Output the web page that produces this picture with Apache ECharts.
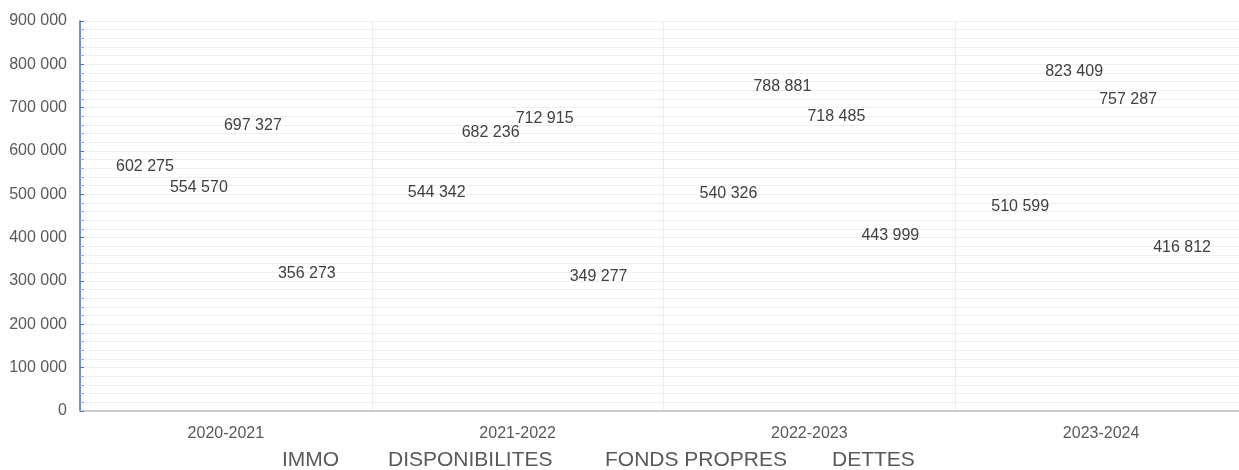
<!DOCTYPE html>
<html>
<head>
<meta charset="utf-8">
<script src="https://cdn.jsdelivr.net/npm/echarts@6/dist/echarts.min.js"></script>
<style>
  html, body { margin: 0; padding: 0; background: #fff; }
  #chart { width: 1239px; height: 470px; }
</style>
</head>
<body>
<div id="chart"></div>
<script>
const years = ["2020-2021", "2021-2022", "2022-2023", "2023-2024"];
const seriesNames = ["IMMO", "DISPONIBILITES", "FONDS PROPRES", "DETTES"];
const immo = [602275, 544342, 540326, 510599];
const disponibilites = [554570, 682236, 788881, 823409];
const fondsPropres = [697327, 712915, 718485, 757287];
const dettes = [356273, 349277, 443999, 416812];

window.addEventListener("load", function () {
  const chart = echarts.init(document.getElementById("chart"));
  const fontFamily = "'Liberation Sans', Arial, sans-serif";

  function fmt(v) {
    return String(v).replace(/\B(?=(\d{3})+(?!\d))/g, " ");
  }

  const values = [immo, disponibilites, fondsPropres, dettes];
  const series = seriesNames.map(function (name, i) {
    return {
      name: name,
      type: "bar",
      data: values[i],
      barGap: "0%",
      barCategoryGap: "26%",
      itemStyle: { color: "rgba(0,0,0,0)" },
      label: {
        show: true,
        position: "insideTop",
        distance: 9,
        formatter: function (p) { return fmt(p.value); },
        color: "#404040",
        fontSize: 16,
        fontFamily: fontFamily,
      },
      emphasis: { disabled: true },
    };
  });

  // one legend per entry so the spacing follows the original
  const legendLeft = [272, 378, 595, 822];
  const legends = seriesNames.map(function (name, i) {
    return {
      data: [name],
      left: legendLeft[i],
      top: 445,
      icon: "none",
      itemWidth: 0,
      itemHeight: 14,
      textStyle: { color: "#595959", fontSize: 21, fontFamily: fontFamily },
    };
  });

  const option = {
    animation: false,
    backgroundColor: "#fff",
    // the plot area runs a little past the right edge in the original
    grid: { left: 80, right: -8, top: 21, bottom: 59, outerBoundsMode: "none" },
    legend: legends,
    xAxis: {
      type: "category",
      data: years,
      axisLine: { lineStyle: { color: "#bfbfbf", width: 1.5 } },
      axisTick: { show: false },
      axisLabel: { color: "#595959", fontSize: 16, fontFamily: fontFamily, margin: 15 },
      splitLine: { show: true, lineStyle: { color: "#ececec" } },
    },
    yAxis: {
      type: "value",
      min: 0,
      max: 900000,
      interval: 100000,
      axisLine: { show: true, lineStyle: { color: "#4472C4", width: 1.5 } },
      axisTick: { show: true, inside: true, length: 4, lineStyle: { color: "#4472C4" } },
      minorTick: { show: true, splitNumber: 5, length: 4, lineStyle: { color: "#8faadc" } },
      axisLabel: {
        color: "#595959",
        fontSize: 16,
        fontFamily: fontFamily,
        margin: 13,
        formatter: function (v) { return fmt(v); },
      },
      splitLine: { show: true, lineStyle: { color: "#efefef" } },
      minorSplitLine: { show: true, lineStyle: { color: "#efefef" } },
    },
    series: series,
  };
  chart.setOption(option);
});
</script>
</body>
</html>
